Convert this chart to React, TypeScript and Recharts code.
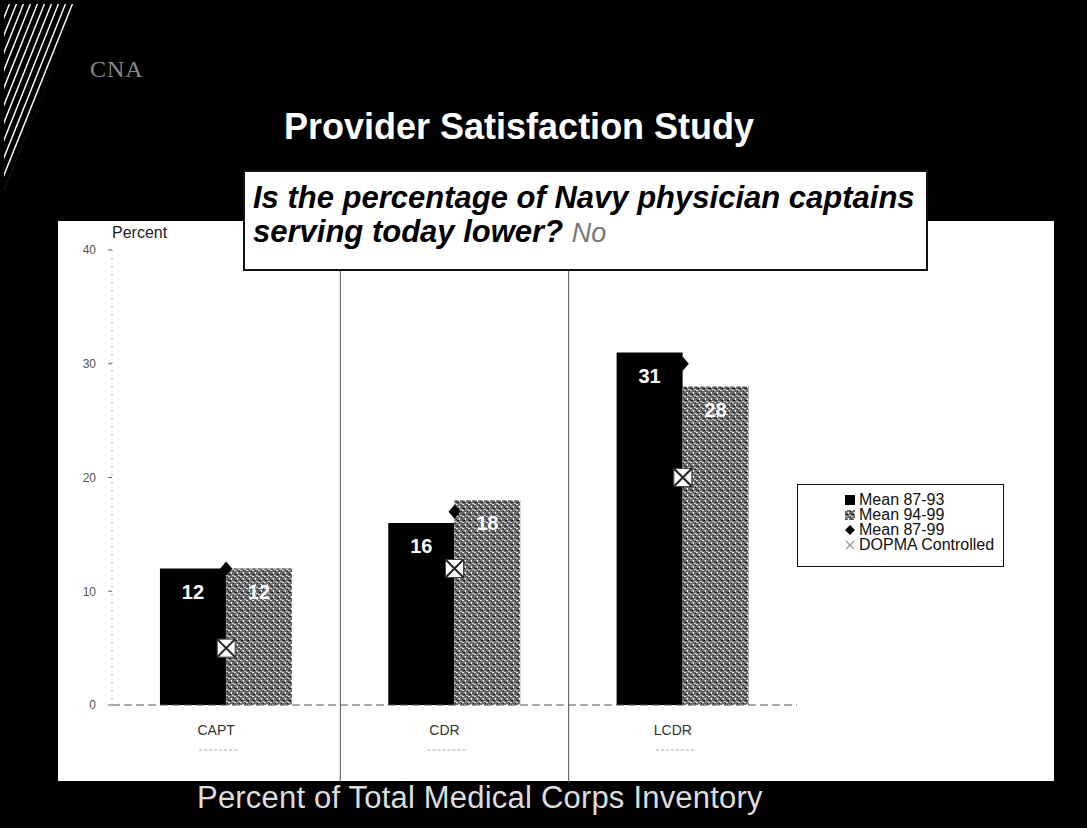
import {
    ComposedChart,
    Bar,
    Line,
    XAxis,
    YAxis,
    ReferenceLine,
    LabelList,
    Legend
} from 'recharts';

const categories = ['CAPT', 'CDR', 'LCDR'];
const mean8793 = [12, 16, 31];
const mean9499 = [12, 18, 28];
const mean8799 = [12, 17, 30];
const dopmaControlled = [5, 12, 20];
const yTicks = [0, 10, 20, 30, 40];
// vertical dividers sit at the end of these category bands
const dividerAfter = ['CAPT', 'CDR'];

const data = categories.map((name, i) => ({
    name,
    m8793: mean8793[i],
    m9499: mean9499[i],
    m8799: mean8799[i],
    dopma: dopmaControlled[i]
}));

const FONT = '"Liberation Sans", Arial, Helvetica, sans-serif';

const legendItems = [
    { key: 'm8793', label: 'Mean 87-93', icon: 'square' },
    { key: 'm9499', label: 'Mean 94-99', icon: 'pattern' },
    { key: 'm8799', label: 'Mean 87-99', icon: 'diamond' },
    { key: 'dopma', label: 'DOPMA Controlled', icon: 'x' }
];

const CategoryTick = (props: any) => {
    const { x, y, payload } = props;
    return (
        <g transform={`translate(${x - 10},${y})`}>
            <text x={0} y={0} dy={22} textAnchor="middle" fontSize={14} fill="#333" fontFamily={FONT}>
                {payload.value}
            </text>
            <line x1={-17} x2={22} y1={37} y2={37} stroke="#aaa" strokeDasharray="3 2" />
        </g>
    );
};

const Diamond = (props: any) => {
    const { cx, cy, index } = props;
    if (cx == null || cy == null) return <g key={`d-${index}`} />;
    return (
        <path
            key={`d-${index}`}
            d={`M${cx},${cy - 7} L${cx + 6},${cy} L${cx},${cy + 7} L${cx - 6},${cy} Z`}
            fill="#000"
        />
    );
};

const XBox = (props: any) => {
    const { cx, cy, index } = props;
    if (cx == null || cy == null) return <g key={`x-${index}`} />;
    const s = 9;
    return (
        <g key={`x-${index}`}>
            <rect x={cx - s} y={cy - s} width={s * 2} height={s * 2} fill="#fff" stroke="#444" strokeWidth={1} />
            <line x1={cx - s} y1={cy - s} x2={cx + s} y2={cy + s} stroke="#222" strokeWidth={2} />
            <line x1={cx + s} y1={cy - s} x2={cx - s} y2={cy + s} stroke="#222" strokeWidth={2} />
        </g>
    );
};

const LegendIcon = ({ type }: { type: string }) => {
    if (type === 'square') return <svg width={10} height={10}><rect width={10} height={10} fill="#000" /></svg>;
    if (type === 'pattern') return <svg width={10} height={10}><rect width={10} height={10} fill="url(#speckle)" /></svg>;
    if (type === 'diamond') return <svg width={10} height={10}><path d="M5,0 L10,5 L5,10 L0,5 Z" fill="#000" /></svg>;
    return (
        <svg width={10} height={10}>
            <line x1={1} y1={1} x2={9} y2={9} stroke="#999" strokeWidth={1.2} />
            <line x1={9} y1={1} x2={1} y2={9} stroke="#999" strokeWidth={1.2} />
        </svg>
    );
};

const LegendBox = () => (
    <div style={{
        width: 207,
        height: 83,
        boxSizing: 'border-box',
        border: '1px solid #111',
        background: '#fff',
        padding: '7px 0 0 47px',
        fontFamily: FONT,
        fontSize: 16,
        color: '#111'
    }}>
        {legendItems.map(item => (
            <div key={item.key} style={{ display: 'flex', alignItems: 'center', height: 15, whiteSpace: 'nowrap' }}>
                <LegendIcon type={item.icon} />
                <span style={{ marginLeft: 4 }}>{item.label}</span>
            </div>
        ))}
    </div>
);

const hatchLines = Array.from({ length: 26 }, (_, i) => i * 7 - 90);

export default function App() {
    return (
        <div style={{
            position: 'absolute',
            left: 0,
            top: 0,
            width: 1087,
            height: 828,
            background: '#000',
            overflow: 'hidden',
            fontFamily: FONT
        }}>
            {/* hatched corner */}
            <svg width={90} height={200} style={{ position: 'absolute', left: 0, top: 0 }}>
                <defs>
                    <clipPath id="corner">
                        <polygon points="4,4 78,4 4,190" />
                    </clipPath>
                </defs>
                <g clipPath="url(#corner)">
                    {hatchLines.map(x => (
                        <line key={x} x1={x} y1={200} x2={x + 80} y2={0} stroke="#fff" strokeWidth={1.4} />
                    ))}
                </g>
            </svg>

            <div style={{
                position: 'absolute', left: 90, top: 56, fontFamily: '"Liberation Serif", serif',
                fontSize: 24, color: '#888', letterSpacing: 1
            }}>CNA</div>

            <div style={{
                position: 'absolute', left: 284, top: 106, fontSize: 36, fontWeight: 'bold', color: '#fff',
                whiteSpace: 'nowrap'
            }}>Provider Satisfaction Study</div>

            {/* white plot panel */}
            <div style={{ position: 'absolute', left: 58, top: 221, width: 996, height: 560, background: '#fff' }} />

            <div style={{ position: 'absolute', left: 0, top: 0 }}>
                <ComposedChart
                    width={1087}
                    height={828}
                    data={data}
                    barGap={0}
                    barCategoryGap="21%"
                    margin={{ top: 250, right: 290, bottom: 83, left: 72 }}
                >
                    <defs>
                        <pattern id="speckle" width="6" height="6" patternUnits="userSpaceOnUse">
                            <rect width="6" height="6" fill="#6c6c6c" />
                            <rect x="0" y="0" width="2" height="1" fill="#e0e0e0" />
                            <rect x="3" y="2" width="1" height="2" fill="#f4f4f4" />
                            <rect x="1" y="4" width="2" height="1" fill="#151515" />
                            <rect x="4" y="5" width="2" height="1" fill="#c8c8c8" />
                            <rect x="5" y="1" width="1" height="1" fill="#222" />
                            <rect x="2" y="2" width="1" height="1" fill="#aaa" />
                            <rect x="0" y="3" width="1" height="1" fill="#333" />
                        </pattern>
                    </defs>
                    <XAxis
                        dataKey="name"
                        tick={<CategoryTick />}
                        tickLine={false}
                        axisLine={{ stroke: '#555', strokeDasharray: '8 4' }}
                        height={40}
                        interval={0}
                    />
                    <YAxis
                        domain={[0, 40]}
                        ticks={yTicks}
                        width={40}
                        tickSize={4}
                        tickMargin={12}
                        tick={{ fontSize: 12, fill: '#555', fontFamily: FONT }}
                        axisLine={{ stroke: '#777', strokeDasharray: '1 7' }}
                        tickLine={{ stroke: '#666' }}
                    />
                    {dividerAfter.map(c => (
                        <ReferenceLine
                            key={c}
                            segment={[{ x: c, y: -6.8 }, { x: c, y: 40 }]}
                            position="end"
                            ifOverflow="visible"
                            stroke="#555"
                            strokeWidth={1}
                        />
                    ))}
                    <Bar dataKey="m8793" fill="#000" isAnimationActive={false} legendType="none">
                        <LabelList dataKey="m8793" position="insideTop" offset={16} fill="#fff" fontSize={20} fontWeight="bold" fontFamily={FONT} />
                    </Bar>
                    <Bar dataKey="m9499" fill="url(#speckle)" isAnimationActive={false} legendType="none">
                        <LabelList dataKey="m9499" position="insideTop" offset={16} fill="#fff" fontSize={20} fontWeight="bold" fontFamily={FONT} />
                    </Bar>
                    <Line dataKey="m8799" stroke="none" dot={Diamond} activeDot={false} isAnimationActive={false} legendType="none" />
                    <Line dataKey="dopma" stroke="none" dot={XBox} activeDot={false} isAnimationActive={false} legendType="none" />
                    <Legend
                        layout="vertical"
                        align="center"
                        verticalAlign="middle"
                        content={<LegendBox />}
                        wrapperStyle={{ left: 797, top: 484, width: 207 }}
                    />
                </ComposedChart>
            </div>

            <div style={{
                position: 'absolute', left: 112, top: 224, fontSize: 16, color: '#222'
            }}>Percent</div>

            {/* question callout */}
            <div style={{
                position: 'absolute',
                left: 243,
                top: 170,
                width: 685,
                height: 101,
                boxSizing: 'border-box',
                background: '#fff',
                border: '2px solid #111',
                padding: '9px 0 0 8px',
                fontSize: 31,
                lineHeight: '34px',
                fontWeight: 'bold',
                fontStyle: 'italic',
                color: '#000',
                whiteSpace: 'nowrap'
            }}>
                Is the percentage of Navy physician captains<br />
                serving today lower? <span style={{ fontWeight: 'normal', color: '#777', fontSize: 27 }}>No</span>
            </div>

            <div style={{
                position: 'absolute', left: 197, top: 780, fontSize: 31, letterSpacing: 0.2, color: '#ddd', whiteSpace: 'nowrap'
            }}>Percent of Total Medical Corps Inventory</div>
        </div>
    );
}
